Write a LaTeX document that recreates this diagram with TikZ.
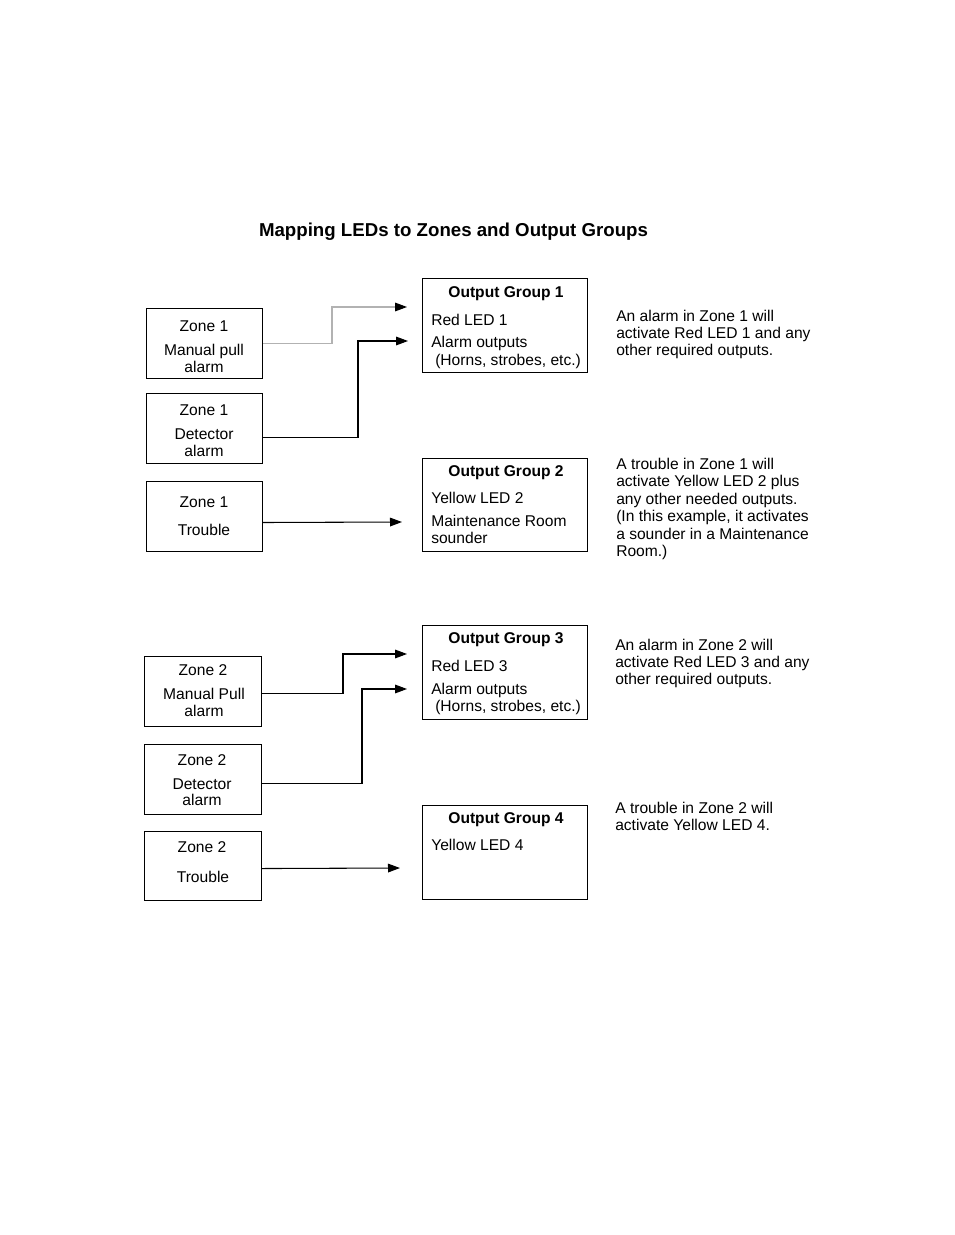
\documentclass[tikz,border=0pt]{standalone}
\usepackage{fontspec}
\setmainfont{Liberation Sans}
\usetikzlibrary{arrows.meta}

\begin{document}
\begin{tikzpicture}[x=0.75pt,y=-0.75pt]
  \tikzset{
    zone box/.style={draw, line width=0.75pt, inner sep=0pt, anchor=north west,
      minimum width=87pt, minimum height=52.5pt},
    group box/.style={draw, line width=0.75pt, inner sep=0pt, anchor=north west,
      minimum width=123.75pt, minimum height=70.5pt},
    label/.style={inner sep=0pt, font=\fontsize{11.7}{13.05}\selectfont},
    heading/.style={label, font=\bfseries\fontsize{11.7}{13.05}\selectfont},
    note/.style={label, align=left, anchor=north west},
    link/.style={line width=0.8pt, -{Triangle[length=9pt, width=6.5pt, color=black]}}
  }
  \useasboundingbox (0,0) rectangle (954,1235);

  % Title
  \node[inner sep=0pt, anchor=base, font=\bfseries\fontsize{14}{16}\selectfont] (title)
    at (453.5,236) {Mapping LEDs to Zones and Output Groups};

  % Zone 1 inputs
  \node[zone box, minimum width=87pt] (z1pull) at (146,308) {};
  \node[label, anchor=base] (z1pullA) at (204,331) {Zone 1};
  \node[label, anchor=base] (z1pullB) at (204,355) {Manual pull};
  \node[label, anchor=base] (z1pullC) at (204,372) {alarm};

  \node[zone box] (z1det) at (146,393) {};
  \node[label, anchor=base] (z1detA) at (204,415) {Zone 1};
  \node[label, anchor=base] (z1detB) at (204,439.5) {Detector};
  \node[label, anchor=base] (z1detC) at (204,456) {alarm};

  \node[zone box] (z1trb) at (146,481) {};
  \node[label, anchor=base] (z1trbA) at (204,507.5) {Zone 1};
  \node[label, anchor=base] (z1trbB) at (204,535.5) {Trouble};

  % Zone 2 inputs
  \node[zone box, minimum width=87.75pt] (z2pull) at (144,656) {};
  \node[label, anchor=base] (z2pullA) at (203,675) {Zone 2};
  \node[label, anchor=base] (z2pullB) at (204,699) {Manual Pull};
  \node[label, anchor=base] (z2pullC) at (204,716.5) {alarm};

  \node[zone box, minimum width=87.75pt] (z2det) at (144,744) {};
  \node[label, anchor=base] (z2detA) at (202,765.5) {Zone 2};
  \node[label, anchor=base] (z2detB) at (202,789) {Detector};
  \node[label, anchor=base] (z2detC) at (202,805.5) {alarm};

  \node[zone box, minimum width=87.75pt, minimum height=51.75pt] (z2trb) at (144,831) {};
  \node[label, anchor=base] (z2trbA) at (202,852.5) {Zone 2};
  \node[label, anchor=base] (z2trbB) at (203,882) {Trouble};

  % Output groups
  \node[group box] (og1) at (422,278) {};
  \node[heading, anchor=base] (og1A) at (506,297.5) {Output Group 1};
  \node[label, anchor=base west] (og1B) at (431,325) {Red LED 1};
  \node[label, anchor=base west] (og1C) at (431,347.5) {Alarm outputs};
  \node[label, anchor=base west] (og1D) at (435,365) {(Horns, strobes, etc.)};

  \node[group box, minimum height=69.75pt] (og2) at (422,458) {};
  \node[heading, anchor=base] (og2A) at (506,476.5) {Output Group 2};
  \node[label, anchor=base west] (og2B) at (431,503.5) {Yellow LED 2};
  \node[label, anchor=base west] (og2C) at (431,526.5) {Maintenance Room};
  \node[label, anchor=base west] (og2D) at (431,543.5) {sounder};

  \node[group box] (og3) at (422,625) {};
  \node[heading, anchor=base] (og3A) at (506,643.5) {Output Group 3};
  \node[label, anchor=base west] (og3B) at (431,671.5) {Red LED 3};
  \node[label, anchor=base west] (og3C) at (431,694) {Alarm outputs};
  \node[label, anchor=base west] (og3D) at (435,711.5) {(Horns, strobes, etc.)};

  \node[group box] (og4) at (422,805) {};
  \node[heading, anchor=base] (og4A) at (506,823.5) {Output Group 4};
  \node[label, anchor=base west] (og4B) at (431,850) {Yellow LED 4};

  % Notes
  \node[note] (note1) at (616,309.5) {An alarm in Zone 1 will\\activate Red LED 1 and any\\other required outputs.};
  \node[note] (note2) at (616,458) {A trouble in Zone 1 will\\activate Yellow LED 2 plus\\any other needed outputs.\\(In this example, it activates\\a sounder in a Maintenance\\Room.)};
  \node[note] (note3) at (615,638.5) {An alarm in Zone 2 will\\activate Red LED 3 and any\\other required outputs.};
  \node[note] (note4) at (615,801.5) {A trouble in Zone 2 will\\activate Yellow LED 4.};

  % Arrow ends
  \coordinate (g1in1) at (407,307);
  \coordinate (g1in2) at (408,341);
  \coordinate (g2in) at (402,522);
  \coordinate (g3in1) at (407,654);
  \coordinate (g3in2) at (407,689);
  \coordinate (g4in) at (400,868);

  % Connectors
  \draw[link, draw=black!30] (z1pull.east) -| (332,307) -- (g1in1);
  \draw[link] ([yshift=-6.75pt]z1det.east) -| (358,341) -- (g1in2);
  \draw[link] ([yshift=-4.5pt]z1trb.east) -- (g2in);
  \draw[link] ([yshift=-1.5pt]z2pull.east) -| (343,654) -- (g3in1);
  \draw[link] ([yshift=-3pt]z2det.east) -| (362,689) -- (g3in2);
  \draw[link] ([yshift=-1.9pt]z2trb.east) -- (g4in);
\end{tikzpicture}
\end{document}
